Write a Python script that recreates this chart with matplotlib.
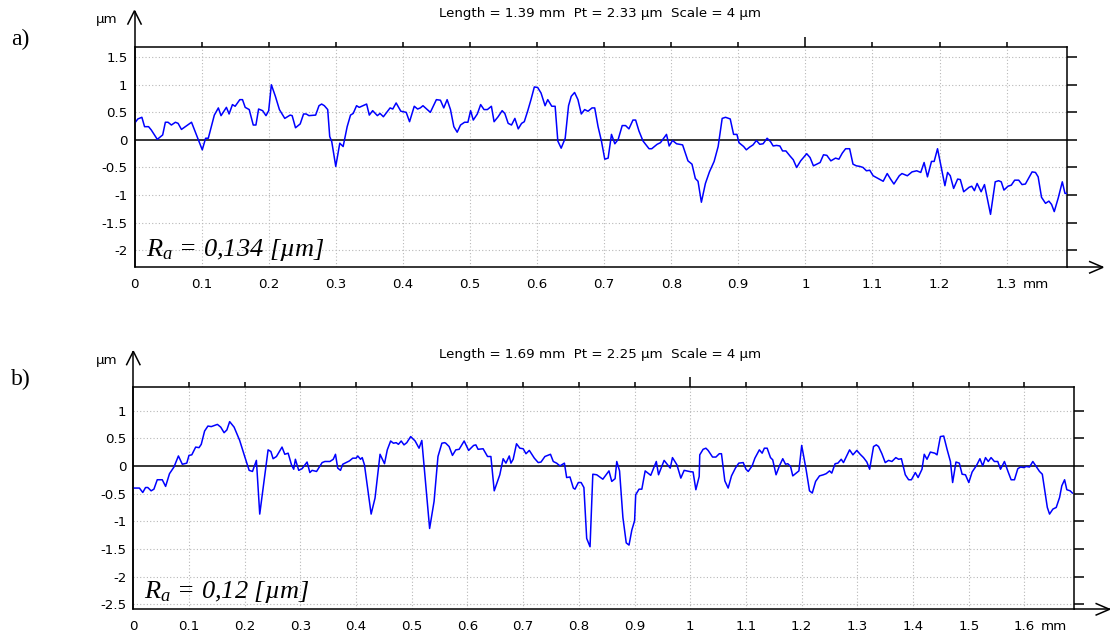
import matplotlib
matplotlib.use("Agg")
import matplotlib.pyplot as plt
from matplotlib.lines import Line2D
from matplotlib.transforms import blended_transform_factory

plt.rcParams['font.family'] = ['DejaVu Sans']
plt.rcParams['mathtext.fontset'] = 'custom'
plt.rcParams['mathtext.it'] = 'Liberation Serif:italic'
plt.rcParams['mathtext.rm'] = 'Liberation Serif'
plt.rcParams['axes.unicode_minus'] = False

# ---- profile a) : position [mm], height [um]
xa = [0.000, 0.005, 0.011, 0.015, 0.021, 0.025, 0.034, 0.042, 0.046, 0.050,
      0.055, 0.061, 0.065, 0.070, 0.085, 0.092, 0.101, 0.106, 0.110, 0.119,
      0.125, 0.129, 0.137, 0.141, 0.146, 0.150, 0.157, 0.161, 0.165, 0.171,
      0.177, 0.181, 0.185, 0.191, 0.196, 0.200, 0.204, 0.210, 0.216, 0.224,
      0.232, 0.235, 0.240, 0.247, 0.252, 0.256, 0.260, 0.270, 0.275, 0.279,
      0.283, 0.288, 0.291, 0.294, 0.300, 0.306, 0.311, 0.317, 0.322, 0.326,
      0.331, 0.335, 0.346, 0.350, 0.355, 0.362, 0.366, 0.371, 0.381, 0.385,
      0.390, 0.397, 0.405, 0.410, 0.417, 0.422, 0.426, 0.430, 0.441, 0.450,
      0.456,
      0.461, 0.466, 0.471, 0.476, 0.481, 0.486, 0.492, 0.497, 0.501, 0.505,
      0.511, 0.516, 0.521, 0.526, 0.532, 0.536, 0.542, 0.548, 0.552, 0.557,
      0.562, 0.567, 0.572, 0.577, 0.581, 0.586, 0.591, 0.596, 0.601, 0.606,
      0.612, 0.616, 0.622, 0.627, 0.631, 0.636, 0.642, 0.647, 0.651, 0.656,
      0.661, 0.666, 0.671, 0.676, 0.682, 0.686, 0.691, 0.696, 0.701, 0.706,
      0.711, 0.716, 0.721, 0.727, 0.732, 0.737, 0.743, 0.747, 0.752, 0.758,
      0.767, 0.771, 0.779, 0.784, 0.793, 0.797, 0.802, 0.808, 0.817, 0.825,
      0.831, 0.836, 0.840, 0.845, 0.851, 0.857, 0.864, 0.870, 0.876, 0.881,
      0.888, 0.893, 0.898, 0.901, 0.908, 0.912, 0.917,
      0.922, 0.927, 0.932, 0.937, 0.943, 0.948, 0.952, 0.957, 0.962, 0.966,
      0.971, 0.977, 0.982, 0.987, 0.993, 1.002, 1.007, 1.012, 1.017, 1.022,
      1.027, 1.032, 1.038, 1.045, 1.050, 1.055, 1.060, 1.066, 1.071, 1.076,
      1.081, 1.086, 1.091, 1.096, 1.101, 1.110, 1.116, 1.122, 1.127, 1.132,
      1.140, 1.144, 1.152, 1.159, 1.166, 1.172, 1.177, 1.182, 1.188, 1.192,
      1.197, 1.203, 1.208, 1.212, 1.216, 1.221, 1.227, 1.231, 1.236, 1.244,
      1.248, 1.252, 1.256, 1.262, 1.267, 1.276, 1.283, 1.288, 1.292, 1.296,
      1.302, 1.307, 1.312, 1.318, 1.323, 1.328, 1.338, 1.343, 1.347, 1.352,
      1.358, 1.363, 1.367, 1.371, 1.377, 1.383, 1.387, 1.390]
za = [0.30, 0.38, 0.41, 0.24, 0.24, 0.18, 0.01, 0.09, 0.32, 0.32,
      0.27, 0.32, 0.30, 0.19, 0.32, 0.10, -0.18, 0.03, 0.03, 0.45,
      0.58, 0.44, 0.59, 0.47, 0.64, 0.61, 0.73, 0.73, 0.59, 0.55,
      0.27, 0.27, 0.56, 0.53, 0.44, 0.53, 1.00, 0.79, 0.55, 0.39,
      0.45, 0.44, 0.22, 0.29, 0.47, 0.47, 0.44, 0.45, 0.62, 0.65,
      0.62, 0.55, 0.06, -0.03, -0.48, -0.06, -0.12, 0.24, 0.45, 0.48,
      0.62, 0.59, 0.65, 0.45, 0.53, 0.44, 0.48, 0.42, 0.58, 0.56,
      0.67, 0.52, 0.50, 0.33, 0.61, 0.56, 0.58, 0.62, 0.50, 0.73,
      0.72,
      0.58, 0.73, 0.55, 0.24, 0.14, 0.27, 0.32, 0.32, 0.53, 0.36,
      0.47, 0.64, 0.55, 0.55, 0.61, 0.33, 0.42, 0.53, 0.48, 0.30,
      0.27, 0.39, 0.20, 0.30, 0.33, 0.52, 0.73, 0.96, 0.95, 0.85,
      0.62, 0.73, 0.61, 0.61, -0.02, -0.15, 0.03, 0.62, 0.79, 0.86,
      0.73, 0.47, 0.55, 0.52, 0.58, 0.58, 0.24, -0.02, -0.35, -0.33,
      0.10, -0.07, 0.01, 0.26, 0.26, 0.20, 0.36, 0.36, 0.16, -0.02,
      -0.16, -0.16, -0.08, -0.05, 0.10, -0.11, -0.01, -0.07, -0.09, -0.38,
      -0.44, -0.70, -0.75, -1.13, -0.79, -0.58, -0.39, -0.12, 0.39, 0.41,
      0.38, 0.10, 0.10, -0.05, -0.12, -0.18, -0.13,
      -0.09, -0.01, -0.08, -0.07, 0.03, -0.03, -0.11, -0.10, -0.11, -0.20,
      -0.20, -0.29, -0.36, -0.50, -0.38, -0.25, -0.32, -0.47, -0.44, -0.41,
      -0.27, -0.28, -0.38, -0.33, -0.35, -0.24, -0.16, -0.16, -0.44, -0.47,
      -0.48, -0.50, -0.56, -0.55, -0.65, -0.71, -0.75, -0.61, -0.71, -0.80,
      -0.65, -0.61, -0.65, -0.58, -0.56, -0.59, -0.41, -0.67, -0.39, -0.39,
      -0.16, -0.52, -0.83, -0.59, -0.65, -0.88, -0.71, -0.72, -0.94, -0.86,
      -0.84, -0.92, -0.79, -0.94, -0.81, -1.35, -0.76, -0.74, -0.76, -0.91,
      -0.84, -0.82, -0.73, -0.73, -0.81, -0.80, -0.58, -0.59, -0.67, -1.04,
      -1.15, -1.11, -1.17, -1.30, -1.05, -0.76, -0.97, -0.97]

# ---- profile b) : position [mm], height [um]
xb = [0.000, 0.011, 0.017, 0.022, 0.026, 0.032, 0.037, 0.043, 0.052, 0.058,
      0.065, 0.073, 0.081, 0.088, 0.096, 0.100, 0.105, 0.112, 0.118, 0.122,
      0.128, 0.134, 0.140, 0.151, 0.157, 0.163, 0.168, 0.173, 0.181, 0.191,
      0.200, 0.208, 0.214, 0.221, 0.227, 0.242, 0.247, 0.251, 0.257, 0.267,
      0.272, 0.278, 0.284, 0.288, 0.291, 0.297, 0.303, 0.312, 0.317, 0.321,
      0.329, 0.339, 0.344, 0.353, 0.359, 0.363, 0.367, 0.372, 0.376, 0.388,
      0.394, 0.400, 0.403, 0.408, 0.411, 0.415, 0.427, 0.434, 0.443, 0.451,
      0.456, 0.462, 0.467, 0.472, 0.476, 0.481, 0.486, 0.491, 0.498, 0.506,
      0.513, 0.518, 0.526, 0.532, 0.540, 0.547, 0.554, 0.559,
      0.561, 0.567, 0.573, 0.579, 0.585, 0.594, 0.602, 0.611, 0.615, 0.619,
      0.628, 0.636, 0.642, 0.648, 0.658, 0.664, 0.669, 0.675, 0.678, 0.682,
      0.688, 0.694, 0.700, 0.705, 0.711, 0.720, 0.727, 0.732, 0.739, 0.749,
      0.754, 0.760, 0.766, 0.774, 0.778, 0.784, 0.790, 0.793, 0.799, 0.804,
      0.809, 0.814, 0.820, 0.825, 0.832, 0.843, 0.854, 0.859, 0.865, 0.868,
      0.873, 0.879, 0.885, 0.890, 0.895, 0.900, 0.902, 0.908, 0.913, 0.919,
      0.929, 0.939, 0.943, 0.953, 0.964, 0.968, 0.976, 0.983, 0.989, 0.998,
      1.005, 1.010, 1.016, 1.017, 1.023, 1.028, 1.032, 1.040, 1.046, 1.052,
      1.056, 1.062, 1.068, 1.074, 1.081, 1.087, 1.095, 1.100, 1.104,
      1.111, 1.116, 1.124, 1.129, 1.133, 1.138, 1.144, 1.148, 1.154, 1.160,
      1.166, 1.171, 1.175, 1.180, 1.184, 1.189, 1.195, 1.200, 1.208, 1.214,
      1.219, 1.225, 1.232, 1.239, 1.244, 1.250, 1.254, 1.260, 1.265, 1.271,
      1.275, 1.286, 1.292, 1.299, 1.305, 1.311, 1.317, 1.322, 1.329, 1.334,
      1.338, 1.344, 1.350, 1.356, 1.362, 1.369, 1.374, 1.379, 1.386, 1.392,
      1.397, 1.404, 1.409, 1.416, 1.420, 1.425, 1.431, 1.439, 1.443, 1.449,
      1.455, 1.461, 1.467, 1.471, 1.477, 1.483, 1.488, 1.494, 1.500, 1.506,
      1.514, 1.520, 1.525, 1.530, 1.535, 1.540, 1.546, 1.552, 1.557, 1.564,
      1.570, 1.576, 1.582, 1.588, 1.593, 1.599, 1.603, 1.609, 1.615, 1.621,
      1.627, 1.632, 1.641, 1.645, 1.651, 1.657, 1.663, 1.667, 1.672, 1.676,
      1.682, 1.686]
zb = [-0.40, -0.40, -0.48, -0.39, -0.39, -0.45, -0.42, -0.25, -0.25, -0.37,
      -0.14, -0.02, 0.18, 0.03, 0.05, 0.19, 0.20, 0.34, 0.33, 0.39,
      0.63, 0.72, 0.71, 0.75, 0.70, 0.60, 0.65, 0.80, 0.70, 0.46,
      0.17, -0.08, -0.10, 0.10, -0.87, 0.29, 0.26, 0.13, 0.17, 0.34,
      0.21, 0.23, 0.02, -0.06, 0.12, -0.08, -0.05, 0.07, -0.12, -0.08,
      -0.10, 0.06, 0.08, 0.08, 0.12, 0.21, -0.04, -0.08, 0.03, 0.09,
      0.14, 0.14, 0.18, 0.12, 0.15, 0.02, -0.87, -0.58, 0.21, 0.04,
      0.29, 0.45, 0.41, 0.42, 0.39, 0.45, 0.38, 0.42, 0.53, 0.45,
      0.32, 0.46, -0.46, -1.13, -0.64, 0.17, 0.41, 0.42,
      0.41, 0.35, 0.19, 0.29, 0.30, 0.45, 0.28, 0.37, 0.38, 0.30,
      0.31, 0.17, 0.17, -0.45, -0.16, 0.13, 0.05, 0.18, 0.05, 0.12,
      0.40, 0.32, 0.31, 0.22, 0.28, 0.14, 0.06, 0.07, 0.17, 0.21,
      0.08, 0.05, 0.00, 0.05, -0.21, -0.20, -0.40, -0.42, -0.30, -0.30,
      -0.39, -1.31, -1.46, -0.15, -0.16, -0.24, -0.09, -0.28, -0.23, 0.08,
      -0.09, -0.93, -1.39, -1.43, -1.16, -0.99, -0.52, -0.42, -0.42, -0.09,
      -0.17, 0.08, -0.16, 0.10, -0.04, 0.15, 0.02, -0.22, -0.08, -0.10,
      -0.11, -0.43, -0.19, 0.20, 0.30, 0.32, 0.28, 0.16, 0.16, 0.22,
      0.22, -0.27, -0.40, -0.18, -0.04, 0.05, 0.06, -0.06, -0.10,
      0.00, 0.14, 0.29, 0.23, 0.32, 0.32, 0.15, 0.11, -0.16, 0.00,
      0.13, 0.03, 0.04, -0.01, -0.18, -0.14, -0.09, 0.37, -0.07, -0.45,
      -0.49, -0.28, -0.18, -0.16, -0.14, -0.09, -0.13, 0.04, 0.05, 0.12,
      0.06, 0.29, 0.20, 0.28, 0.21, 0.15, 0.07, -0.06, 0.35, 0.38,
      0.35, 0.22, 0.06, 0.10, 0.08, 0.15, 0.12, 0.13, -0.16, -0.25,
      -0.25, -0.12, -0.21, -0.06, 0.21, 0.12, 0.25, 0.23, 0.20, 0.53,
      0.54, 0.30, 0.08, -0.30, 0.07, 0.05, -0.15, -0.16, -0.30, -0.11,
      0.01, 0.13, 0.00, 0.15, 0.08, 0.15, 0.08, 0.08, -0.06, 0.08,
      -0.09, -0.25, -0.25, -0.05, -0.02, -0.03, -0.01, -0.02, 0.08, -0.01,
      -0.10, -0.15, -0.75, -0.87, -0.78, -0.75, -0.57, -0.36, -0.25, -0.43,
      -0.45, -0.49]

# axis ticks and labels
xticks_a = [0.0, 0.1, 0.2, 0.3, 0.4, 0.5, 0.6, 0.7, 0.8, 0.9, 1.0, 1.1, 1.2, 1.3]
xlabels_a = ["0", "0.1", "0.2", "0.3", "0.4", "0.5", "0.6", "0.7", "0.8",
             "0.9", "1", "1.1", "1.2", "1.3"]
yticks_a = [1.5, 1.0, 0.5, 0.0, -0.5, -1.0, -1.5, -2.0]
ylabels_a = ["1.5", "1", "0.5", "0", "-0.5", "-1", "-1.5", "-2"]

xticks_b = [0.0, 0.1, 0.2, 0.3, 0.4, 0.5, 0.6, 0.7, 0.8, 0.9, 1.0, 1.1, 1.2,
            1.3, 1.4, 1.5, 1.6]
xlabels_b = ["0", "0.1", "0.2", "0.3", "0.4", "0.5", "0.6", "0.7", "0.8",
             "0.9", "1", "1.1", "1.2", "1.3", "1.4", "1.5", "1.6"]
yticks_b = [1.0, 0.5, 0.0, -0.5, -1.0, -1.5, -2.0, -2.5]
ylabels_b = ["1", "0.5", "0", "-0.5", "-1", "-1.5", "-2", "-2.5"]

info_a = "Length = 1.39 mm  Pt = 2.33 µm  Scale = 4 µm"
info_b = "Length = 1.69 mm  Pt = 2.25 µm  Scale = 4 µm"
ra_a = r"$R_a$ = 0,134 [µm]"
ra_b = r"$R_a$ = 0,12 [µm]"

FS = 9.6

W, H = 1110, 639
fig = plt.figure(figsize=(W / 100, H / 100), dpi=100)
fig.patch.set_facecolor("white")


def fx(px):
    return px / W


def fy(py):
    return 1 - py / H


def fig_line(pts, lw=1.1):
    fig.add_artist(Line2D([fx(p[0]) for p in pts], [fy(p[1]) for p in pts],
                          transform=fig.transFigure, color="black", lw=lw,
                          solid_capstyle="butt", solid_joinstyle="miter"))


def panel(box, x, z, xmax, ylim, xt, xl, yt, yl, info, ra, tag, big_tick):
    left, top, right, bottom = box
    ax = fig.add_axes([fx(left), fy(bottom), fx(right - left),
                       (bottom - top) / H])
    ax.set_xlim(0, xmax)
    ax.set_ylim(*ylim)
    for s in ax.spines.values():
        s.set_linewidth(1.1)
        s.set_color("black")

    grid_kw = dict(color="#b8b8b8", lw=0.8, linestyle=(0, (1, 2)), zorder=1)
    for v in xt[1:]:
        ax.axvline(v, **grid_kw)
    for v in yt:
        if v != 0:
            ax.axhline(v, **grid_kw)
    ax.axhline(0, color="black", lw=1.1, zorder=2)

    ax.plot(x, z, color="#0000ff", lw=1.1, zorder=3)

    ax.set_xticks(xt)
    ax.set_xticklabels(xl, fontsize=FS)
    ax.set_yticks(yt)
    ax.set_yticklabels(yl, fontsize=FS)
    ax.tick_params(axis="x", length=0, pad=8)
    ax.tick_params(axis="y", length=0, pad=5)

    # ticks on the top frame and the right frame
    top_tr = blended_transform_factory(ax.transData, ax.transAxes)
    for v in xt[1:]:
        ax.plot([v], [1], marker=2, markersize=7 if v == big_tick else 3.5,
                color="black", mew=1.1, transform=top_tr, clip_on=False)
    right_tr = blended_transform_factory(ax.transAxes, ax.transData)
    for v in yt:
        ax.plot([1], [v], marker=1, markersize=7, color="black", mew=1.1,
                transform=right_tr, clip_on=False)

    # unit after last x label
    ax.annotate("mm", xy=(xt[-1], 0), xycoords=top_tr, xytext=(16, -11),
                textcoords="offset pixels", ha="left", va="top", fontsize=FS)

    # axis arrows
    fig_line([(left, bottom), (left, top - 36)])
    fig_line([(left - 7, top - 22), (left, top - 36), (left + 7, top - 22)])
    fig_line([(right, bottom), (right + 36, bottom)])
    fig_line([(right + 22, bottom - 6), (right + 36, bottom),
              (right + 22, bottom + 6)])

    fig.text(fx(107), fy(top - 27), "µm", fontsize=FS, ha="center",
             va="center")
    fig.text(fx(600), fy(top - 33), info, fontsize=FS, ha="center",
             va="center")
    fig.text(fx(11), fy(top - 2), tag, fontsize=17, ha="left",
             va="baseline", family="Liberation Serif")
    fig.text(fx(left + 11), fy(bottom - 11), ra, fontsize=19, ha="left",
             va="baseline", family="Liberation Serif", style="italic")
    return ax


panel((134.5, 46.7, 1067, 267.3), xa, za, 1.39, (-2.31, 1.69),
      xticks_a, xlabels_a, yticks_a, ylabels_a, info_a, ra_a, "a)", 1.0)
panel((133.3, 387.3, 1073.5, 609.3), xb, zb, 1.688, (-2.59, 1.42),
      xticks_b, xlabels_b, yticks_b, ylabels_b, info_b, ra_b, "b)", 1.0)

fig.savefig("out.png", dpi=100, facecolor="white")
